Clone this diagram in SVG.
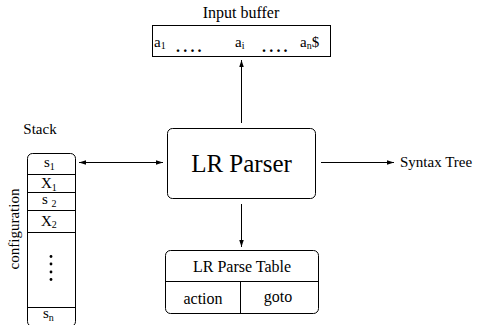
<svg xmlns="http://www.w3.org/2000/svg" width="500" height="325" viewBox="0 0 500 325">
<style>
text{font-family:"Liberation Serif","Times New Roman",serif;fill:#000}
.box{fill:#fff;stroke:#000;stroke-width:1}
.ln{stroke:#000;stroke-width:1;fill:none}
.t{font-size:15px}
.t16{font-size:16px}
.sub{font-size:10px}
.dots{font-size:16px;font-weight:bold;letter-spacing:3.2px}
</style>
<defs>
<marker id="ah" viewBox="0 0 10 10" refX="10" refY="5" markerWidth="7" markerHeight="7" orient="auto-start-reverse" markerUnits="userSpaceOnUse">
<path d="M0,1.8 L10,5 L0,8.2 Z" fill="#000"/>
</marker>
</defs>
<g id="connectors">
<line class="ln" x1="241.5" y1="123" x2="241.5" y2="60" marker-end="url(#ah)"/>
<line class="ln" x1="79" y1="162.5" x2="163" y2="162.5" marker-start="url(#ah)" marker-end="url(#ah)"/>
<line class="ln" x1="321" y1="162.5" x2="394" y2="162.5" marker-end="url(#ah)"/>
<line class="ln" x1="241.5" y1="204" x2="241.5" y2="247" marker-end="url(#ah)"/>
</g>
<g id="input-buffer">
<text class="t16" x="241" y="18" text-anchor="middle">Input buffer</text>
<rect class="box" x="152.5" y="25.5" width="178" height="31"/>
<text class="t" x="154" y="47">a<tspan class="sub" dy="2">1</tspan></text>
<text class="dots" x="176" y="52">....</text>
<text class="t" x="235" y="47">a<tspan class="sub" dy="2">i</tspan></text>
<text class="dots" x="262" y="52">....</text>
<text class="t" x="300" y="47">a<tspan class="sub" dy="2">n</tspan><tspan dy="-2">$</tspan></text>
</g>
<g id="lr-parser">
<rect class="box" x="167.5" y="128.5" width="148" height="70" rx="5"/>
<text x="241.5" y="172" font-size="25" text-anchor="middle">LR Parser</text>
</g>
<g id="syntax-tree">
<text class="t" x="400" y="167">Syntax Tree</text>
</g>
<g id="parse-table">
<rect class="box" x="165.5" y="250.5" width="153" height="63" rx="5"/>
<line class="ln" x1="165.5" y1="281.5" x2="318.5" y2="281.5"/>
<line class="ln" x1="240.5" y1="281.5" x2="240.5" y2="313.5"/>
<text class="t16" x="242" y="272" text-anchor="middle">LR Parse Table</text>
<text class="t16" x="203" y="304" text-anchor="middle">action</text>
<text class="t16" x="278" y="302" text-anchor="middle">goto</text>
</g>
<g id="stack">
<text class="t" x="40" y="134" text-anchor="middle">Stack</text>
<rect class="box" x="27.5" y="153.5" width="48" height="173" rx="5"/>
<line class="ln" x1="27.5" y1="174.5" x2="75.5" y2="174.5"/>
<line class="ln" x1="27.5" y1="192.5" x2="75.5" y2="192.5"/>
<line class="ln" x1="27.5" y1="210.5" x2="75.5" y2="210.5"/>
<line class="ln" x1="27.5" y1="232.5" x2="75.5" y2="232.5"/>
<line class="ln" x1="27.5" y1="307.5" x2="75.5" y2="307.5"/>
<text class="t" x="44" y="167">s<tspan class="sub" dy="3">1</tspan></text>
<text class="t" x="41" y="188">X<tspan class="sub" dy="3">1</tspan></text>
<text class="t" x="42" y="204">s <tspan class="sub" dy="3">2</tspan></text>
<text class="t" x="41" y="226">X<tspan class="sub" dy="2">2</tspan></text>
<circle cx="51" cy="256.5" r="1.4"/>
<circle cx="51" cy="264" r="1.4"/>
<circle cx="51" cy="272" r="1.4"/>
<circle cx="51" cy="279.5" r="1.4"/>
<text class="t" x="43" y="318">s<tspan class="sub" dy="3">n</tspan></text>
<text class="t" transform="translate(19,229) rotate(-90)" text-anchor="middle">configuration</text>
</g>
</svg>
